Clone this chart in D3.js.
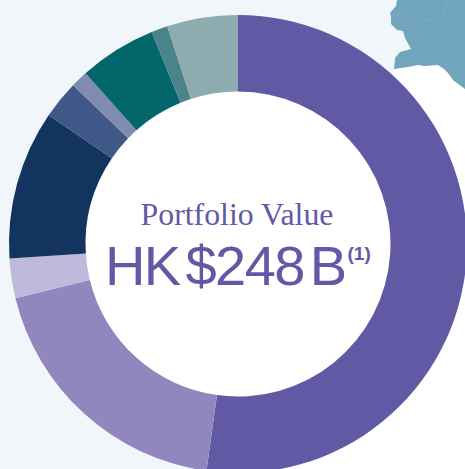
<!DOCTYPE html>
<html><head><meta charset="utf-8">
<script src="https://cdn.jsdelivr.net/npm/d3@7"></script>
<style>html,body{margin:0;padding:0;background:#fff;overflow:hidden}svg{display:block}</style>
</head><body><svg id="c" width="465" height="469"></svg>
<script>
const segments = ["A","B","C","D","E","F","G","H","I"];
const shares = [52.2,19.0,2.8,10.5,2.7,1.2,5.45,1.15,5.0];
const colors = ["#6259a5","#9186bd","#bfb9dc","#12345f","#3f5888","#7f8bb0","#02666a","#4a8389","#8eabaf"];
const coast = [[397,0],[396,6],[390,13],[391,17],[391,24],[397,30],[403,31],[405,38],[411,49],[400,52],[395,58],[394,69],[408,67],[418,65],[425,66],[438,65],[444,69],[448,73],[453,80],[465,89]];
const border = [[390,15],[402,15],[423,22],[444,16],[445,7],[448,0]];
const svg = d3.select("#c");
const bg = "#f0f6fa", land = "#70a5bd";
const line = d3.line();
svg.append("rect").attr("width",465).attr("height",469).attr("fill","#fff");
svg.append("path").attr("fill",bg).attr("d",line([[0,0],...coast.slice(0,12),[300,200],[200,469],[0,469]])+"Z");
svg.append("path").attr("fill",land).attr("d",line([...coast,[465,0]])+"Z");
svg.append("path").attr("fill","none").attr("stroke","#94bccf").attr("stroke-width",.5).attr("stroke-dasharray","2 1").attr("d",line(border));
const cx=238, cy=244;
const pie=d3.pie().sort(null).value(d=>d)(shares);
const arc=d3.arc().innerRadius(152.5).outerRadius(229);
const g=svg.append("g").attr("transform",`translate(${cx},${cy})`);
g.append("circle").attr("r",153).attr("fill","#fff");
g.selectAll("path").data(pie).join("path").attr("d",arc).attr("fill",(d,i)=>colors[i]);
const t=svg.append("g").attr("fill","#6259a5");
t.append("text").attr("x",237).attr("y",225).attr("text-anchor","middle").attr("font-family","'Liberation Serif','DejaVu Serif',serif").attr("font-size",31.8).text("Portfolio Value");
t.append("text").attr("x",105).attr("y",285).attr("font-family","'Liberation Sans',Arial,sans-serif").attr("font-size",56).attr("letter-spacing",-1.6).attr("word-spacing",-8).text("HK $248 B");
t.append("text").attr("x",347.5).attr("y",259.5).attr("font-family","'Liberation Sans',Arial,sans-serif").attr("font-size",19).attr("font-weight","bold").text("(1)");
</script></body></html>
